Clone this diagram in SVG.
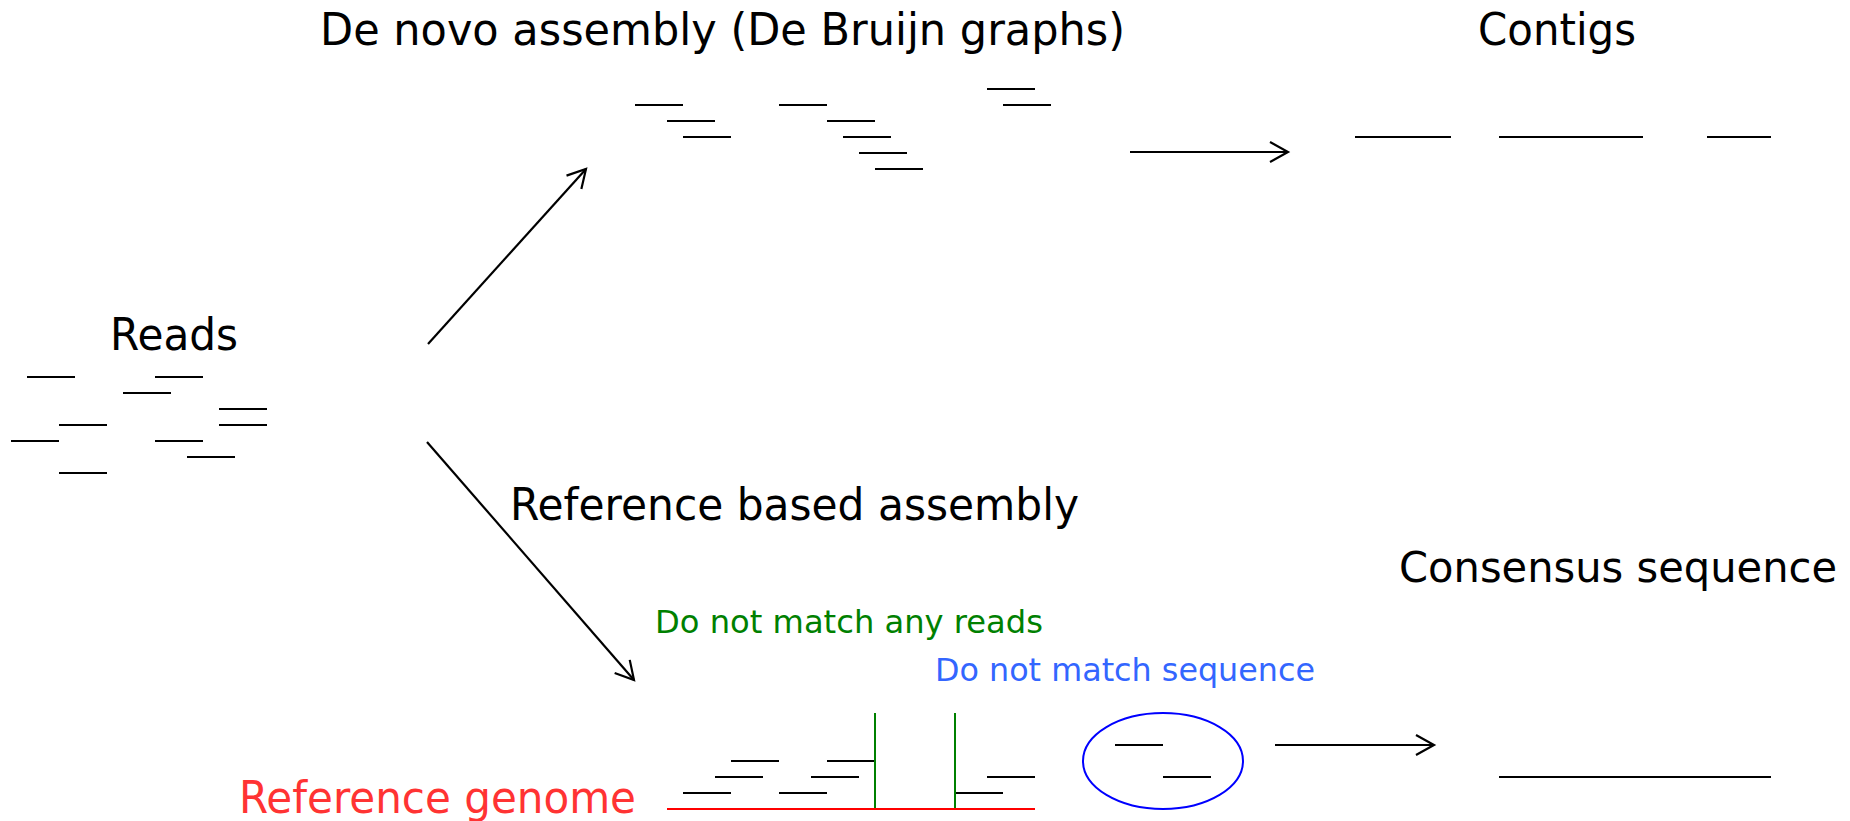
<svg xmlns="http://www.w3.org/2000/svg" width="1850" height="821" viewBox="0 0 1850 821">
<style>
.t{font-family:"DejaVu Sans","Liberation Sans",sans-serif;font-size:44px;fill:#000}
.s{font-family:"DejaVu Sans","Liberation Sans",sans-serif;font-size:32px}
.r{stroke:#000;stroke-width:2;fill:none}
.a{stroke:#000;stroke-width:2.2;fill:none}
</style>
<defs>
<marker id="ah" viewBox="0 0 20 20" refX="20" refY="10" markerWidth="20" markerHeight="20" markerUnits="userSpaceOnUse" orient="auto" overflow="visible">
<path d="M2,0 L20,10 L2,20" fill="none" stroke="#000" stroke-width="2.2"/>
</marker>
</defs>
<rect width="1850" height="821" fill="#fff"/>

<g id="reads">
<text class="t" x="110" y="350" textLength="128" lengthAdjust="spacingAndGlyphs">Reads</text>
<path class="r" d="M27,377H75 M155,377H203 M123,393H171 M219,409H267 M59,425H107 M219,425H267 M11,441H59 M155,441H203 M187,457H235 M59,473H107"/>
</g>

<g id="denovo">
<text class="t" x="320" y="45" textLength="805" lengthAdjust="spacingAndGlyphs">De novo assembly (De Bruijn graphs)</text>
<path class="r" d="M635,105H683 M667,121H715 M683,137H731 M779,105H827 M827,121H875 M843,137H891 M859,153H907 M875,169H923 M987,89H1035 M1003,105H1051"/>
</g>

<g id="contigs">
<text class="t" x="1478" y="45" textLength="158" lengthAdjust="spacingAndGlyphs">Contigs</text>
<path class="r" d="M1355,137H1451 M1499,137H1643 M1707,137H1771"/>
</g>

<g id="refassembly">
<text class="t" x="510" y="520" textLength="569" lengthAdjust="spacingAndGlyphs">Reference based assembly</text>
<text class="s" x="655" y="633" fill="#008000" textLength="388" lengthAdjust="spacingAndGlyphs">Do not match any reads</text>
<text class="s" x="935" y="681" fill="#3366ff" textLength="380" lengthAdjust="spacingAndGlyphs">Do not match sequence</text>
<text class="t" x="239" y="813" textLength="397" lengthAdjust="spacingAndGlyphs" style="fill:#ff3333">Reference genome</text>
<path class="r" d="M731,761H779 M827,761H875 M715,777H763 M811,777H859 M987,777H1035 M683,793H731 M779,793H827 M955,793H1003"/>
<path d="M875,713V809 M955,713V809" stroke="#008000" stroke-width="2" fill="none"/>
<path d="M667,809H1035" stroke="#ff0000" stroke-width="2" fill="none"/>
<ellipse cx="1163" cy="761" rx="80" ry="48" fill="none" stroke="#0000ff" stroke-width="2"/>
<path class="r" d="M1115,745H1163 M1163,777H1211"/>
</g>

<g id="consensus">
<text class="t" x="1399" y="582" textLength="438" lengthAdjust="spacingAndGlyphs" style="font-size:42px">Consensus sequence</text>
<path class="r" d="M1499,777H1771"/>
</g>

<g id="connectors">
<path class="a" d="M428,344L586,169" marker-end="url(#ah)"/>
<path class="a" d="M427,442L634,680" marker-end="url(#ah)"/>
<path class="a" d="M1130,152H1288" marker-end="url(#ah)"/>
<path class="a" d="M1275,745H1434" marker-end="url(#ah)"/>
</g>
</svg>
